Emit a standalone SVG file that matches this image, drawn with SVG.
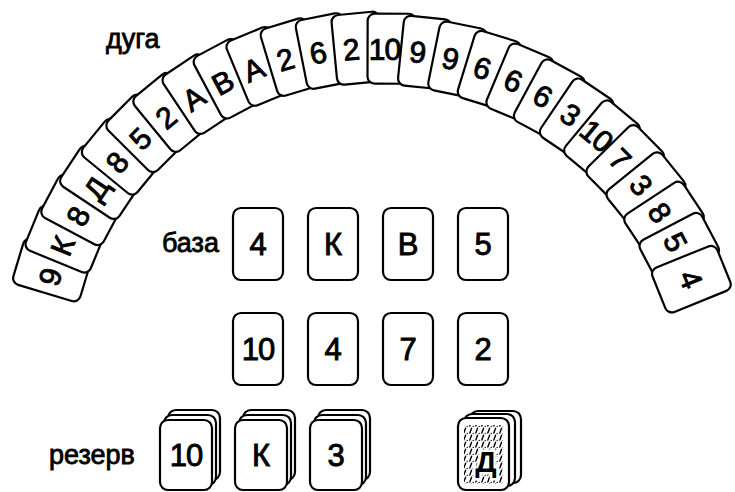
<svg xmlns="http://www.w3.org/2000/svg" width="735" height="492" viewBox="0 0 735 492">
<style>
.card{fill:#fff;stroke:#000;stroke-width:2.2}
.t{font-family:"Liberation Sans",Arial,sans-serif;font-size:30px;text-anchor:middle;fill:#000;stroke:#000;stroke-width:0.9}
.tb{font-family:"Liberation Sans",Arial,sans-serif;font-size:31px;text-anchor:middle;fill:#000;stroke:#000;stroke-width:0.9}
.lab{font-family:"Liberation Sans",Arial,sans-serif;font-size:27px;fill:#000;stroke:#000;stroke-width:0.8}
</style>
<defs>
<rect id="ac" class="card" x="-24" y="-35" width="48" height="70" rx="7"/>
<pattern id="hatch" width="6" height="7" patternUnits="userSpaceOnUse">
<path d="M1.8 6 L3.6 1.2" stroke="#000" stroke-width="1.4" stroke-linecap="round"/>
<circle cx="5.2" cy="6.4" r="0.7" fill="#000"/>
</pattern>
</defs>
<rect width="735" height="492" fill="#fff"/>

<text id="label-arc" class="lab" x="106" y="48">дуга</text>
<text id="label-base" class="lab" x="162" y="252">база</text>
<text id="label-reserve" class="lab" x="49" y="464">резерв</text>

<g id="arc">
<g id="arc-1" transform="rotate(-69.8 370 387) translate(370 48) rotate(-3.5)"><use href="#ac"/><text class="t" x="-7" y="11">9</text></g>
<g id="arc-2" transform="rotate(-64.15 370 387) translate(370 48) rotate(-3.5)"><use href="#ac"/><text class="t" x="-7" y="11">К</text></g>
<g id="arc-3" transform="rotate(-58.5 370 387) translate(370 48) rotate(-3.5)"><use href="#ac"/><text class="t" x="-7" y="11">8</text></g>
<g id="arc-4" transform="rotate(-52.85 370 387) translate(370 48) rotate(-3.5)"><use href="#ac"/><text class="t" x="-7" y="11">Д</text></g>
<g id="arc-5" transform="rotate(-47.2 370 387) translate(370 48) rotate(-3.5)"><use href="#ac"/><text class="t" x="-7" y="11">8</text></g>
<g id="arc-6" transform="rotate(-41.55 370 387) translate(370 48) rotate(-3.5)"><use href="#ac"/><text class="t" x="-7" y="11">5</text></g>
<g id="arc-7" transform="rotate(-35.9 370 387) translate(370 48) rotate(-3.5)"><use href="#ac"/><text class="t" x="-7" y="11">2</text></g>
<g id="arc-8" transform="rotate(-30.25 370 387) translate(370 48) rotate(-3.5)"><use href="#ac"/><text class="t" x="-7" y="11">А</text></g>
<g id="arc-9" transform="rotate(-24.6 370 387) translate(370 48) rotate(-3.5)"><use href="#ac"/><text class="t" x="-7" y="11">В</text></g>
<g id="arc-10" transform="rotate(-18.95 370 387) translate(370 48) rotate(-3.5)"><use href="#ac"/><text class="t" x="-7" y="11">А</text></g>
<g id="arc-11" transform="rotate(-13.3 370 387) translate(370 48) rotate(-3.5)"><use href="#ac"/><text class="t" x="-7" y="11">2</text></g>
<g id="arc-12" transform="rotate(-7.65 370 387) translate(370 48) rotate(-3.5)"><use href="#ac"/><text class="t" x="-7" y="11">6</text></g>
<g id="arc-13" transform="rotate(-2 370 387) translate(370 48) rotate(-3.5)"><use href="#ac"/><text class="t" x="-7" y="11">2</text></g>
<g id="arc-14" transform="rotate(3.65 370 387) translate(370 48) rotate(-3.5)"><use href="#ac"/><text class="t" x="-7" y="11" letter-spacing="-1">10</text></g>
<g id="arc-15" transform="rotate(9.3 370 387) translate(370 48) rotate(-3.5)"><use href="#ac"/><text class="t" x="-7" y="11">9</text></g>
<g id="arc-16" transform="rotate(14.95 370 387) translate(370 48) rotate(-3.5)"><use href="#ac"/><text class="t" x="-7" y="11">9</text></g>
<g id="arc-17" transform="rotate(20.6 370 387) translate(370 48) rotate(-3.5)"><use href="#ac"/><text class="t" x="-7" y="11">6</text></g>
<g id="arc-18" transform="rotate(26.25 370 387) translate(370 48) rotate(-3.5)"><use href="#ac"/><text class="t" x="-7" y="11">6</text></g>
<g id="arc-19" transform="rotate(31.9 370 387) translate(370 48) rotate(-3.5)"><use href="#ac"/><text class="t" x="-7" y="11">6</text></g>
<g id="arc-20" transform="rotate(37.55 370 387) translate(370 48) rotate(-3.5)"><use href="#ac"/><text class="t" x="-7" y="11">3</text></g>
<g id="arc-21" transform="rotate(43.2 370 387) translate(370 48) rotate(-3.5)"><use href="#ac"/><text class="t" x="-7" y="11" letter-spacing="-1">10</text></g>
<g id="arc-22" transform="rotate(48.85 370 387) translate(370 48) rotate(-3.5)"><use href="#ac"/><text class="t" x="-7" y="11">7</text></g>
<g id="arc-23" transform="rotate(54.5 370 387) translate(370 48) rotate(-3.5)"><use href="#ac"/><text class="t" x="-7" y="11">3</text></g>
<g id="arc-24" transform="rotate(60.15 370 387) translate(370 48) rotate(-3.5)"><use href="#ac"/><text class="t" x="-7" y="11">8</text></g>
<g id="arc-25" transform="rotate(65.8 370 387) translate(370 48) rotate(-3.5)"><use href="#ac"/><text class="t" x="-7" y="11">5</text></g>
<g id="arc-26" transform="rotate(71.45 370 387) translate(370 48) rotate(-3.5)"><use href="#ac"/><text class="t" x="0" y="11">4</text></g>
</g>

<g id="base">
<g id="base-1"><rect class="card" x="233" y="208" width="50" height="72" rx="8"/><text class="tb" x="258" y="255">4</text></g>
<g id="base-2"><rect class="card" x="308" y="208" width="50" height="72" rx="8"/><text class="tb" x="333" y="255">К</text></g>
<g id="base-3"><rect class="card" x="383" y="208" width="50" height="72" rx="8"/><text class="tb" x="408" y="255">В</text></g>
<g id="base-4"><rect class="card" x="458" y="208" width="50" height="72" rx="8"/><text class="tb" x="483" y="255">5</text></g>
<g id="tableau-1"><rect class="card" x="233" y="313" width="50" height="72" rx="8"/><text class="tb" x="258" y="360" letter-spacing="-1">10</text></g>
<g id="tableau-2"><rect class="card" x="308" y="313" width="50" height="72" rx="8"/><text class="tb" x="333" y="360">4</text></g>
<g id="tableau-3"><rect class="card" x="383" y="313" width="50" height="72" rx="8"/><text class="tb" x="408" y="360">7</text></g>
<g id="tableau-4"><rect class="card" x="458" y="313" width="50" height="72" rx="8"/><text class="tb" x="483" y="360">2</text></g>
</g>

<g id="reserve">
<g id="reserve-1">
<rect class="card" x="168" y="410" width="52" height="70" rx="8"/>
<rect class="card" x="164" y="415" width="52" height="70" rx="8"/>
<rect class="card" x="160" y="420" width="52" height="70" rx="8"/>
<text class="tb" x="186" y="466" letter-spacing="-1">10</text>
</g>
<g id="reserve-2">
<rect class="card" x="243" y="410" width="52" height="70" rx="8"/>
<rect class="card" x="239" y="415" width="52" height="70" rx="8"/>
<rect class="card" x="235" y="420" width="52" height="70" rx="8"/>
<text class="tb" x="261" y="466">К</text>
</g>
<g id="reserve-3">
<rect class="card" x="318" y="410" width="52" height="70" rx="8"/>
<rect class="card" x="314" y="415" width="52" height="70" rx="8"/>
<rect class="card" x="310" y="420" width="52" height="70" rx="8"/>
<text class="tb" x="336" y="466">3</text>
</g>
<g id="stock">
<rect class="card" x="470" y="411" width="51" height="72" rx="8"/>
<rect class="card" x="464" y="414" width="51" height="72" rx="8"/>
<rect class="card" x="458" y="418" width="51" height="72" rx="8"/>
<rect x="464" y="425" width="39" height="59" rx="3" fill="url(#hatch)"/>
<text x="486" y="472" font-family="Liberation Sans, Arial, sans-serif" font-size="30" font-weight="bold" text-anchor="middle" fill="#000" stroke="#fff" stroke-width="5" paint-order="stroke">Д</text>
</g>
</g>
</svg>
